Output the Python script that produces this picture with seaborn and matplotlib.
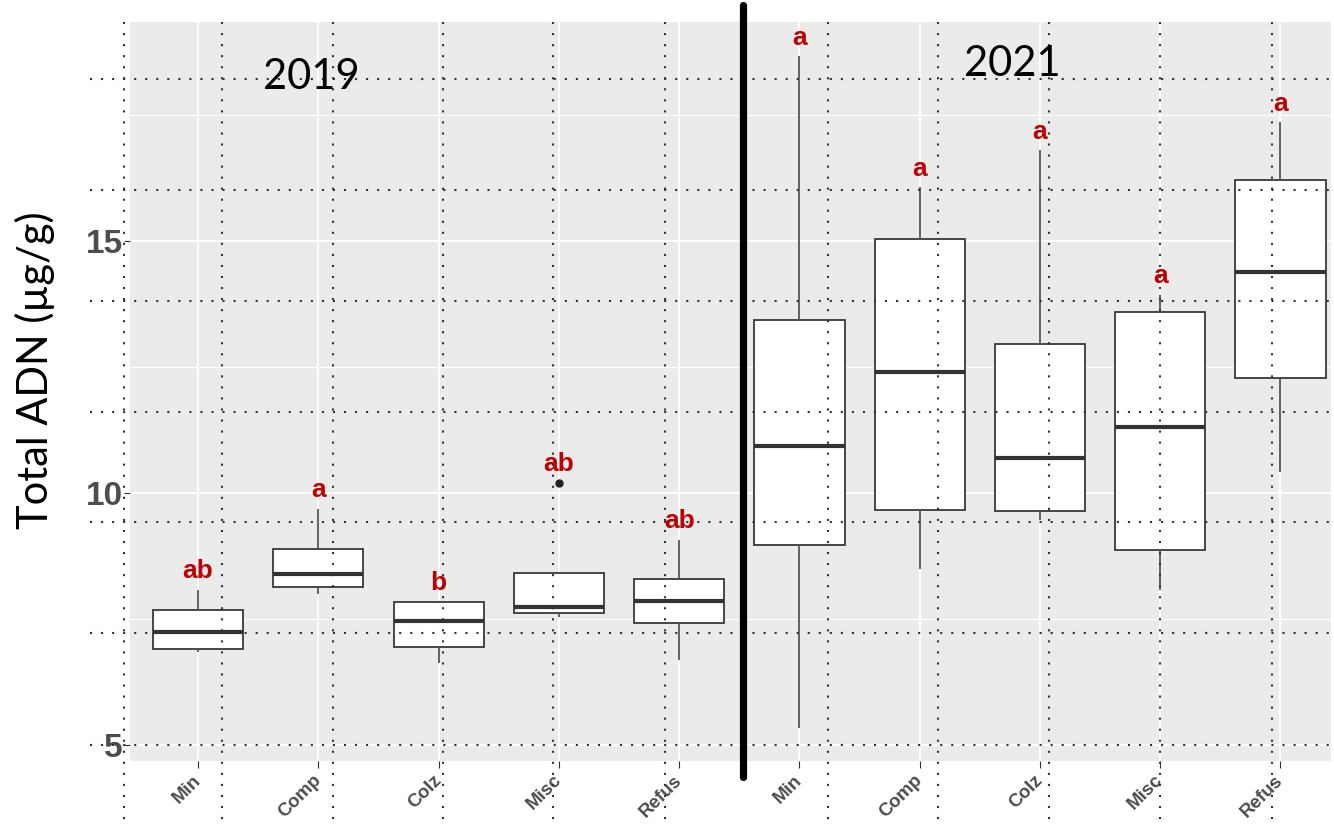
import numpy as np
import pandas as pd
import matplotlib
matplotlib.use("Agg")
import matplotlib.pyplot as plt
import seaborn as sns
from matplotlib.lines import Line2D

groups = ["Min", "Comp", "Colz", "Misc", "Refus"]
years = ["2019", "2021"]
q1 = [6.90, 8.13, 6.94, 7.62, 7.42, 8.97, 9.66, 9.64, 8.87, 12.28]
med = [7.24, 8.39, 7.46, 7.74, 7.86, 10.93, 12.40, 10.69, 11.31, 14.38]
q3 = [7.68, 8.89, 7.84, 8.41, 8.29, 13.43, 15.04, 12.96, 13.59, 16.21]
whislo = [6.85, 8.00, 6.63, 7.54, 6.69, 5.34, 8.49, 9.46, 8.08, 10.42]
whishi = [8.08, 9.68, 7.84, 8.41, 9.07, 18.67, 16.07, 16.80, 13.93, 17.36]
outliers = [None, None, None, 10.2, None, None, None, None, None, None]
letters = ["ab", "a", "b", "ab", "ab", "a", "a", "a", "a", "a"]

keys = [f"{y} {g}" for y in years for g in groups]

# rebuild points that give the box stats
rows = []
for i, k in enumerate(keys):
    vals = [whislo[i], q1[i], q1[i], med[i], med[i], med[i], q3[i], q3[i], whishi[i]]
    if outliers[i] is not None:
        vals = vals[:7] + [whishi[i], outliers[i]]
    for v in vals:
        rows.append({"key": k, "val": v})
df = pd.DataFrame(rows)

W, H = 1334, 825
sns.set_style("darkgrid", {"axes.facecolor": "#EBEBEB", "grid.color": "white"})
plt.rcParams["font.family"] = ["Liberation Sans", "DejaVu Sans"]

fig = plt.figure(figsize=(W / 100, H / 100), dpi=100)
ax = fig.add_axes([130 / W, 1 - 761 / H, 1201 / W, 739 / H])

sns.boxplot(data=df, x="key", y="val", order=keys, color="white",
            linecolor="#383838", linewidth=1.3, width=0.75, showcaps=False,
            whiskerprops=dict(color="#555555", linewidth=1.3),
            medianprops=dict(color="#333333", linewidth=3),
            flierprops=dict(marker="o", markersize=5, markerfacecolor="#222222",
                            markeredgecolor="#222222"),
            ax=ax)

for i in range(len(keys)):
    top = whishi[i] if outliers[i] is None else outliers[i]
    ax.text(i, top + 0.37, letters[i], color="#C00000", fontsize=19,
            fontweight="bold", ha="center", va="center")

ax.set_xlim(-0.566, 9.42)
ax.set_ylim(4.68, 19.35)
ax.set_yticks([5, 10, 15])
ax.set_yticks([7.5, 12.5, 17.5], minor=True)
ax.grid(which="major", color="white", linewidth=1.3)
ax.grid(which="minor", axis="y", color="white", linewidth=0.8)
ax.set_xticks(range(len(keys)))
ax.set_xticklabels(groups * 2, rotation=45, ha="right", va="center",
                   rotation_mode="anchor", fontweight="bold", color="#4D4D4D",
                   fontsize=13.5)
ax.set_yticklabels(["5", "10", "15"], fontweight="bold", color="#4D4D4D", fontsize=24)
ax.tick_params(axis="y", which="major", length=4, color="#333333", pad=1, left=True)
ax.tick_params(axis="y", which="minor", length=0)
ax.tick_params(axis="x", length=5, color="#333333", pad=7, bottom=True)
ax.set_xlabel("")
ax.set_ylabel("")
for s in ax.spines.values():
    s.set_visible(False)

# dotted overlay grid (pixel layout of the slide)
vx = [124, 222, 333, 443, 553, 665, 828, 938, 1049, 1160, 1272]
hy = [79, 190, 301, 412, 522, 633, 745]
for x in vx:
    fig.add_artist(Line2D([x / W, x / W], [1 - 22 / H, 0], color="#333333",
                          lw=1.5, linestyle=(0, (1, 4.3))))
for y in hy:
    fig.add_artist(Line2D([90 / W, 1], [1 - y / H, 1 - y / H], color="#333333",
                          lw=1.5, linestyle=(0, (1, 4.3))))

fig.add_artist(Line2D([743 / W, 743 / W], [1 - 5 / H, 1 - 777 / H], color="black", lw=5.2))

fig.text(311 / W, 1 - 77 / H, "2019", fontsize=30, color="black",
         family=["Lato", "DejaVu Sans"], ha="center", va="center")
fig.text(1012 / W, 1 - 64 / H, "2021", fontsize=30, color="black",
         family=["Lato", "DejaVu Sans"], ha="center", va="center")
fig.text(35 / W, 1 - 370 / H, "Total ADN (µg/g)", fontsize=30, rotation=90, color="black",
         family=["Lato", "DejaVu Sans"], ha="center", va="center")

fig.savefig("out.png", dpi=100)
